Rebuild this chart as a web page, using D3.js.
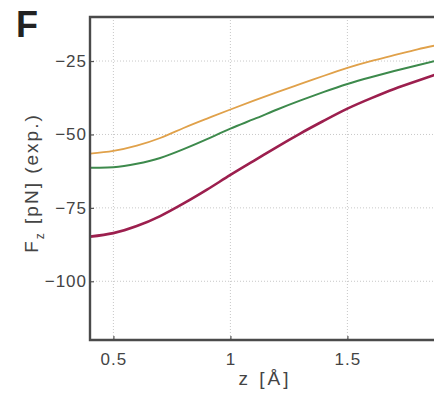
<!DOCTYPE html>
<html>
<head>
<meta charset="utf-8">
<script src="https://cdn.jsdelivr.net/npm/d3@7"></script>
<style>
  html, body { margin: 0; padding: 0; background: #fff; }
  svg { display: block; }
  text { font-family: "Liberation Sans", Arial, sans-serif; }
</style>
</head>
<body>
<svg id="chart" width="434" height="394"></svg>
<script>
// ---- data ----
const zValues = [0.4, 0.5, 0.6, 0.7, 0.8, 0.9, 1.0, 1.1, 1.2, 1.3, 1.4, 1.5, 1.6, 1.7, 1.8, 1.9];
const orangeSeries = [-56.5, -55.6, -53.8, -51.2, -47.8, -44.6, -41.5, -38.5, -35.6, -32.8, -30.0, -27.3, -25.0, -23.0, -21.0, -19.3];
const greenSeries  = [-61.3, -61.2, -60.0, -58.0, -55.0, -51.6, -48.0, -44.8, -41.5, -38.4, -35.5, -32.8, -30.5, -28.4, -26.4, -24.5];
const redSeries    = [-84.8, -83.6, -81.2, -77.8, -73.5, -68.8, -63.8, -59.0, -54.2, -49.6, -45.3, -41.2, -37.7, -34.5, -31.7, -29.0];
const xTicks = [0.5, 1, 1.5];
const yTicks = [-25, -50, -75, -100];
const seriesColors = ["#9c1f4e", "#3d8a4c", "#e0a14a"];

// ---- layout ----
const svg = d3.select("#chart");
const mLeft = 90, mTop = 17, mBottom = 340;
const x = d3.scaleLinear().domain([0.4, 2.0]).range([mLeft, mLeft + 1.6 * 234]);
const y = d3.scaleLinear().domain([-120, -10]).range([mBottom, mTop]);
const mRight = x(2.0);

svg.append("defs").append("clipPath").attr("id", "clip")
  .append("rect").attr("x", mLeft).attr("y", mTop).attr("width", mRight - mLeft).attr("height", mBottom - mTop);

// grid
const grid = svg.append("g");
grid.selectAll("line.gx").data(xTicks).join("line")
  .attr("x1", d => x(d)).attr("x2", d => x(d)).attr("y1", mTop).attr("y2", mBottom)
  .attr("stroke", "#c8c8c8").attr("stroke-width", 1).attr("stroke-dasharray", "1,2");
grid.selectAll("line.gy").data(yTicks).join("line")
  .attr("x1", mLeft).attr("x2", mRight).attr("y1", d => y(d)).attr("y2", d => y(d))
  .attr("stroke", "#c8c8c8").attr("stroke-width", 1).attr("stroke-dasharray", "1,2");

// lines
const line = d3.line().x((d, i) => x(zValues[i])).y(d => y(d)).curve(d3.curveNatural);
const series = [redSeries, greenSeries, orangeSeries];
const widths = [2.6, 2, 1.8];
const lg = svg.append("g").attr("clip-path", "url(#clip)");
[2, 1, 0].forEach(k => {
  lg.append("path").datum(series[k]).attr("d", line)
    .attr("fill", "none").attr("stroke", seriesColors[k]).attr("stroke-width", widths[k]);
});

// axes
const xAxis = d3.axisBottom(x).tickValues(xTicks).tickSize(-4).tickPadding(13)
  .tickFormat(d => String(d));
const gx = svg.append("g").attr("transform", `translate(0,${mBottom})`).call(xAxis);
const yAxis = d3.axisLeft(y).tickValues(yTicks).tickSize(-4).tickPadding(3)
  .tickFormat(d => "\u2212" + Math.abs(d));
const gy = svg.append("g").attr("transform", `translate(${mLeft},0)`).call(yAxis);
[gx, gy].forEach(g => {
  g.select(".domain").remove();
  g.selectAll(".tick line").attr("stroke", "#555").attr("stroke-width", 1.2);
  g.selectAll(".tick text").attr("fill", "#444").attr("font-size", 17)
    .attr("letter-spacing", 1);
});

// frame
svg.append("path")
  .attr("d", `M${mRight},${mTop}H${mLeft}V${mBottom}H${mRight}`)
  .attr("fill", "none").attr("stroke", "#4a4a4a").attr("stroke-width", 2.4);

// labels
svg.append("text").attr("x", 16).attr("y", 37).attr("font-size", 36).attr("font-weight", "bold")
  .attr("fill", "#222").text("F");

const yl = svg.append("text").attr("transform", "translate(38,183) rotate(-90)")
  .attr("text-anchor", "middle").attr("font-size", 19).attr("fill", "#444")
  .attr("letter-spacing", 2);
yl.append("tspan").text("F");
yl.append("tspan").attr("font-size", 12).attr("dy", 6).text("z");
yl.append("tspan").attr("dy", -6).text(" [pN] (exp.)");

svg.append("text").attr("x", 265).attr("y", 385).attr("text-anchor", "middle")
  .attr("font-size", 19).attr("fill", "#444").attr("letter-spacing", 3).text("z [Å]");
</script>
</body>
</html>
